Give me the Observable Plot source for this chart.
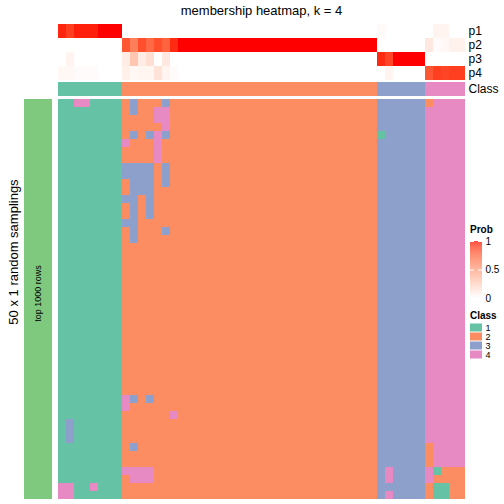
<!DOCTYPE html>
<html><head><meta charset="utf-8">
<script src="https://cdn.jsdelivr.net/npm/d3@7"></script>
<script src="https://cdn.jsdelivr.net/npm/@observablehq/plot@0.6"></script>
<style>
body{margin:0;background:#fff;font-family:"Liberation Sans",Arial,Helvetica,sans-serif;}
#chart{position:relative;width:504px;height:504px;overflow:hidden;background:#fff;}
#chart svg{position:absolute;overflow:visible;}
.txt{position:absolute;white-space:nowrap;color:#000;}
</style></head><body><div id="chart"></div>
<script>
// ---------------- data ----------------
const titleText = "membership heatmap, k = 4";
const rowTitle = "50 x 1 random samplings";
const barLabel = "top 1000 rows";
const probRows = ["p1","p2","p3","p4"];
const classes = [1,2,3,4];
const classColors = ["#66C2A5","#FC8D62","#8DA0CB","#E78AC3"];
const barColor = "#7FC97F";
const probTicks = [0,0.5,1];

// class of each of the 51 columns (samples)
const colClass = [1,1,1,1,1,1,1,1,
  2,2,2,2,2,2,2,2,2,2,2,2,2,2,2,2,2,2,2,2,2,2,2,2,2,2,2,2,2,2,2,2,
  3,3,3,3,3,3,
  4,4,4,4,4];
// membership probabilities per column
const p1 = [0.96,0.90,0.97,0.97,0.97,1,1,1,
  0,0,0,0,0,0,0,0,0,0,0,0,0,0,0,0,0,0,0,0,0,0,0,0,0,0,0,0,0,0,0,0,
  0.03,0,0,0,0,0,
  0,0.06,0.06,0,0];
const p2 = [0,0,0,0,0,0,0,0,
  0.82,0.66,0.85,0.75,0.85,0.78,0.95,1,1,1,1,1,1,1,1,1,1,1,1,1,1,1,1,1,1,1,1,1,1,1,1,1,
  0,0,0,0,0,0,
  0.12,0.02,0.04,0.07,0.07];
const p3 = [0,0.06,0,0,0,0,0,0,
  0.10,0.30,0.10,0.17,0,0.12,0,0,0,0,0,0,0,0,0,0,0,0,0,0,0,0,0,0,0,0,0,0,0,0,0,0,
  0.95,0.88,1,1,1,1,
  0,0,0,0,0];
const p4 = [0.04,0.04,0.02,0.02,0.02,0,0,0,
  0.08,0.04,0.05,0.05,0.15,0.06,0.02,0,0,0,0,0,0,0,0,0,0,0,0,0,0,0,0,0,0,0,0,0,0,0,0,0,
  0,0.06,0,0,0,0,
  0.82,0.90,0.88,0.90,0.90];
// cells of the 50 x 51 sampling grid that differ from the column class: [row, col, class]
const deviations = [
  [0,2,4],[0,3,4],[0,9,3],[0,13,3],[0,46,2],
  [1,9,3],[1,12,4],[1,13,4],
  [2,12,4],[2,13,4],
  [3,13,4],
  [4,9,3],[4,11,3],[4,12,4],[4,13,3],[4,40,1],
  [5,8,4],[5,12,4],
  [6,12,4],
  [7,12,4],
  [8,8,3],[8,9,3],[8,10,3],[8,11,3],[8,13,3],
  [9,8,3],[9,9,3],[9,10,3],[9,11,3],[9,13,3],
  [10,9,3],[10,10,3],[10,11,3],[10,13,3],
  [11,9,3],[11,10,3],[11,11,3],
  [12,8,3],[12,9,3],[12,11,3],
  [13,9,3],[13,11,3],
  [14,9,3],[14,11,3],
  [15,8,3],[15,9,3],
  [16,9,3],[16,13,3],
  [17,9,3],
  [37,8,4],[37,9,3],[37,11,3],
  [38,8,4],
  [39,14,4],
  [40,1,3],[41,1,3],[42,1,3],
  [43,9,3],[43,46,2],
  [44,46,2],
  [45,46,2],
  [46,8,4],[46,9,4],[46,10,4],[46,11,4],[46,41,4],[46,46,4],[46,47,1],[46,48,2],[46,49,2],[46,50,2],
  [47,9,4],[47,10,4],[47,11,4],[47,41,4],[47,46,4],[47,47,2],[47,48,2],[47,49,2],[47,50,2],
  [48,0,4],[48,1,4],[48,4,4],[48,46,2],[48,47,1],[48,48,1],[48,49,2],[48,50,2],
  [49,0,4],[49,1,4],[49,41,4],[49,46,2],[49,47,1],[49,48,1],[49,49,2],[49,50,2]
];
const nRows = 50;

// ---------------- tables ----------------
const cols = colClass.map((_, i) => i);
const rows = d3.range(nRows);
const probArrays = {p1, p2, p3, p4};
const probCells = probRows.flatMap(r => cols.map(c => ({row: r, col: c, p: probArrays[r][c]})));
const classCells = cols.map(c => ({row: "Class", col: c, cls: colClass[c]}));
const devMap = new Map(deviations.map(([r, c, k]) => [r + "_" + c, k]));
const grid = rows.flatMap(r => cols.map(c => ({row: r, col: c, cls: devMap.get(r + "_" + c) ?? colClass[c]})));

const font = "'Liberation Sans', Arial, Helvetica, sans-serif";
const probColor = {type: "linear", domain: [0, 1], range: ["white", "red"], interpolate: "lab"};
const classColor = {type: "ordinal", domain: classes, range: classColors};
const xBand = {type: "band", domain: cols, padding: 0, axis: null};

const chart = document.getElementById("chart");
function place(el, left, top) { el.style.left = left + "px"; el.style.top = top + "px"; chart.appendChild(el); }

// top probability annotation
place(Plot.plot({
  width: 504, height: 56, marginLeft: 58, marginRight: 39, marginTop: 0, marginBottom: 0,
  style: {fontFamily: font, fontSize: "12px", background: "transparent", color: "black"},
  x: xBand,
  y: {type: "band", domain: probRows, padding: 0, axis: "right", tickSize: 0, tickPadding: 3, label: null},
  color: probColor,
  marks: [Plot.cell(probCells, {x: "col", y: "row", fill: "p", inset: 0, shapeRendering: "crispEdges"})]
}), 0, 24);

// class annotation row
place(Plot.plot({
  width: 504, height: 14, marginLeft: 58, marginRight: 39, marginTop: 0, marginBottom: 0,
  style: {fontFamily: font, fontSize: "12px", background: "transparent", color: "black"},
  x: xBand,
  y: {type: "band", domain: ["Class"], padding: 0, axis: "right", tickSize: 0, tickPadding: 3, label: null},
  color: classColor,
  marks: [Plot.cell(classCells, {x: "col", y: "row", fill: "cls", inset: 0, shapeRendering: "crispEdges"})]
}), 0, 82);

// main sampling heatmap
place(Plot.plot({
  width: 504, height: 400, marginLeft: 58, marginRight: 39, marginTop: 0, marginBottom: 0,
  style: {fontFamily: font, background: "transparent"},
  x: xBand,
  y: {type: "band", domain: rows, padding: 0, axis: null},
  color: classColor,
  marks: [Plot.cell(grid, {x: "col", y: "row", fill: "cls", inset: 0, shapeRendering: "crispEdges"})]
}), 0, 99);

// left green bar with label
place(Plot.plot({
  width: 58, height: 400, marginLeft: 24, marginRight: 6, marginTop: 0, marginBottom: 0,
  style: {fontFamily: font, background: "transparent"},
  x: {type: "band", domain: [barLabel], padding: 0, axis: null},
  y: {type: "band", domain: [barLabel], padding: 0, axis: null},
  marks: [
    Plot.cell([barLabel], {x: d => d, y: d => d, fill: barColor, inset: 0}),
    Plot.text([barLabel], {x: d => d, y: d => d, text: d => d, rotate: -90, fontSize: 9, fill: "black", dy: -6})
  ]
}), 0, 99);

// Prob legend
const ramp = d3.range(0, 100).map(i => i / 100);
const probLeg = Plot.plot({
  width: 34, height: 57, marginLeft: 0, marginRight: 22, marginTop: 0, marginBottom: 0,
  style: {fontFamily: font, fontSize: "10px", background: "transparent", color: "black"},
  x: {axis: null, domain: [0, 1]},
  y: {domain: [0, 1], ticks: probTicks, axis: "right", tickSize: 0, tickPadding: 3, label: null, tickFormat: d => String(d)},
  color: probColor,
  marks: [
    Plot.rect(ramp, {x1: 0, x2: 1, y1: d => d, y2: d => d + 0.0101, fill: d => d}),
    Plot.tickY(probTicks, {y: d => d, stroke: "white", strokeWidth: 1, insetRight: 8}),
    Plot.tickY(probTicks, {y: d => d, stroke: "white", strokeWidth: 1, insetLeft: 8})
  ]
});
place(probLeg, 470, 241);

// Class legend
place(Plot.plot({
  width: 34, height: 36, marginLeft: 0, marginRight: 22, marginTop: 0, marginBottom: 0,
  style: {fontFamily: font, fontSize: "9px", background: "transparent", color: "black"},
  x: {type: "band", domain: ["k"], padding: 0, axis: null},
  y: {type: "band", domain: classes, padding: 0, axis: "right", tickSize: 0, tickPadding: 3, label: null},
  color: classColor,
  marks: [Plot.cell(classes, {x: () => "k", y: d => d, fill: d => d, insetTop: 0.5, insetBottom: 0.5})]
}), 470, 323);

// texts
function addText(txt, css) { const d = document.createElement("div"); d.className = "txt"; d.textContent = txt; Object.assign(d.style, css); chart.appendChild(d); return d; }
addText(titleText, {left: "58px", width: "407px", top: "3px", textAlign: "center", fontSize: "13px", lineHeight: "16px"});
addText(rowTitle, {left: "-86px", top: "244px", width: "200px", textAlign: "center", fontSize: "13px", lineHeight: "16px", transform: "rotate(-90deg)"});
addText("Prob", {left: "470px", top: "224px", fontSize: "10px", fontWeight: "bold", lineHeight: "11px"});
addText("Class", {left: "470px", top: "310px", fontSize: "10px", fontWeight: "bold", lineHeight: "12px"});
</script></body></html>
